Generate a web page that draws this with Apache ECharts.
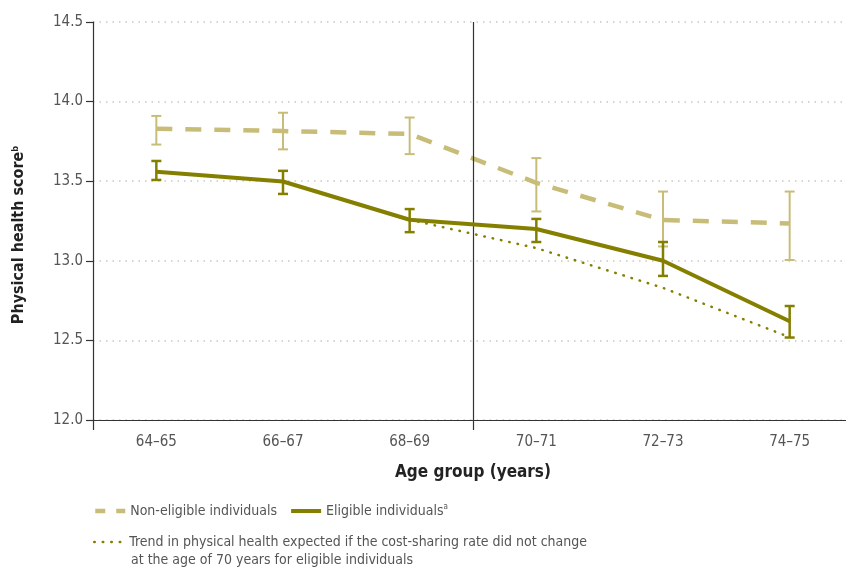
<!DOCTYPE html>
<html><head><meta charset="utf-8">
<script src="https://cdn.jsdelivr.net/npm/echarts@6/dist/echarts.min.js"></script>
<style>html,body{margin:0;padding:0;background:#fff}#c{width:846px;height:569px}</style>
</head><body><div id="c"></div>
<script>
const categories = ['64–65','66–67','68–69','70–71','72–73','74–75'];
const nonEligible = [13.83, 13.815, 13.797, 13.49, 13.256, 13.235];
const nonEligibleLow = [13.73, 13.70, 13.67, 13.31, 13.09, 13.005];
const nonEligibleHigh = [13.91, 13.93, 13.90, 13.645, 13.435, 13.435];
const eligible = [13.56, 13.498, 13.258, 13.2, 13.0, 12.62];
const eligibleLow = [13.508, 13.42, 13.18, 13.118, 12.905, 12.518];
const eligibleHigh = [13.627, 13.565, 13.325, 13.263, 13.118, 12.716];
const trend = [null, null, 13.258, 13.08, 12.83, 12.52];
const yTicks = {min: 12.0, max: 14.5, interval: 0.5};
const policyBoundary = 2.5; // between 68–69 and 70–71

const NAME_NON = 'Non-eligible individuals';
const NAME_EL = 'Eligible individuals';
const NAME_TREND = 'Trend in physical health expected if the cost-sharing rate did not change';

const cLight = '#c8bd78';
const cDark = '#857f00';
const font = '"DejaVu Sans Condensed", "Liberation Sans Narrow", sans-serif';

function errData(lo, hi){ return lo.map((l,i)=>[i,l,hi[i]]); }
function errRender(color, width){
  return function(params, api){
    const x = api.value(0);
    const lo = api.coord([x, api.value(1)]);
    const hi = api.coord([x, api.value(2)]);
    const hw = 5;
    const st = {stroke: color, lineWidth: width, fill: null};
    return {type:'group', children:[
      {type:'line', shape:{x1:lo[0],y1:lo[1],x2:hi[0],y2:hi[1]}, style:st},
      {type:'line', shape:{x1:lo[0]-hw,y1:lo[1],x2:lo[0]+hw,y2:lo[1]}, style:st},
      {type:'line', shape:{x1:hi[0]-hw,y1:hi[1],x2:hi[0]+hw,y2:hi[1]}, style:st}
    ]};
  };
}

const legendText = {fontFamily:font, fontSize:14, color:'#555'};
const chart = echarts.init(document.getElementById('c'));
chart.setOption({
  animation:false,
  backgroundColor:'#fff',
  grid:{left:93, top:22, width:760, height:398, containLabel:false, outerBoundsMode:'none'},
  xAxis:[{type:'category', data:categories, boundaryGap:true,
    axisLine:{onZero:false, lineStyle:{color:'#333', width:1.2}},
    axisTick:{show:true, length:10, interval:(i)=>i===0||i===3, lineStyle:{color:'#333', width:1.2}},
    splitLine:{show:false},
    axisLabel:{color:'#555', fontFamily:font, fontSize:15, margin:15, interval:0},
    name:'Age group (years)', nameLocation:'middle', nameGap:44,
    nameTextStyle:{fontFamily:font, fontWeight:'bold', fontSize:17, color:'#222'}
  },{type:'value', min:-0.5, max:5.5, show:false}],
  yAxis:{type:'value', min:yTicks.min, max:yTicks.max, interval:yTicks.interval,
    axisLine:{show:true, onZero:false, lineStyle:{color:'#333', width:1.2}},
    axisTick:{show:true, length:7, lineStyle:{color:'#333', width:1.2}},
    axisLabel:{color:'#555', fontFamily:font, fontSize:15, margin:10, formatter:v=>v.toFixed(1)},
    splitLine:{show:true, lineStyle:{color:'#c8c8c8', type:[1.5,5], width:1.5}},
    name:'{t|Physical health score}{s|b}', nameLocation:'middle', nameGap:66, nameRotate:90,
    nameTextStyle:{fontFamily:font, color:'#222', padding:[0,0,0,-28],
      rich:{t:{fontFamily:font, fontWeight:'bold', fontSize:16, color:'#222'},
            s:{fontFamily:font, fontWeight:'bold', fontSize:9, color:'#222', verticalAlign:'top', padding:[0,0,7,0]}}}
  },
  legend:[
    {left:88, top:498, itemWidth:30, itemHeight:14, itemGap:12,
     itemStyle:{opacity:0},
     data:[{name:NAME_NON, lineStyle:{type:[10,11], width:4.5}}, {name:NAME_EL, lineStyle:{width:4}}],
     formatter:(n)=> n===NAME_EL ? '{t|'+n+'}{s|a}' : '{t|'+n+'}',
     textStyle:Object.assign({}, legendText, {
       rich:{t:legendText, s:{fontFamily:font, fontSize:8, color:'#555', verticalAlign:'top', padding:[0,0,8,0]}}})},
    {left:88, top:530, itemWidth:30, itemHeight:14, itemStyle:{opacity:0},
     data:[{name:NAME_TREND, lineStyle:{width:2.5}}],
     textStyle:legendText}
  ],
  graphic:[{type:'text', left:131, top:553, style:{text:'at the age of 70 years for eligible individuals', font:'14px '+font, fill:'#555'}}],
  series:[
    {name:'divider', type:'line', xAxisIndex:1, data:[], silent:true,
     markLine:{symbol:'none', silent:true, label:{show:false}, animation:false,
       lineStyle:{color:'#333', type:'solid', width:1.2}, data:[{xAxis:policyBoundary}]}},
    {name:NAME_NON, type:'line', data:nonEligible, symbol:'none', z:3,
     lineStyle:{color:cLight, width:4.5, type:[16,13]}, itemStyle:{color:cLight}},
    {name:'nonErr', type:'custom', data:errData(nonEligibleLow, nonEligibleHigh), renderItem:errRender(cLight, 2), z:4, encode:{x:0,y:[1,2]}},
    {name:NAME_EL, type:'line', data:eligible, symbol:'none', z:5,
     lineStyle:{color:cDark, width:4}, itemStyle:{color:cDark}},
    {name:'elErr', type:'custom', data:errData(eligibleLow, eligibleHigh), renderItem:errRender(cDark, 2.5), z:6, encode:{x:0,y:[1,2]}},
    {name:NAME_TREND, type:'line', data:trend, symbol:'none', z:4, connectNulls:false,
     lineStyle:{color:cDark, width:2.5, type:[0.5,8], cap:'round'}, itemStyle:{color:cDark}}
  ]
});
</script></body></html>
